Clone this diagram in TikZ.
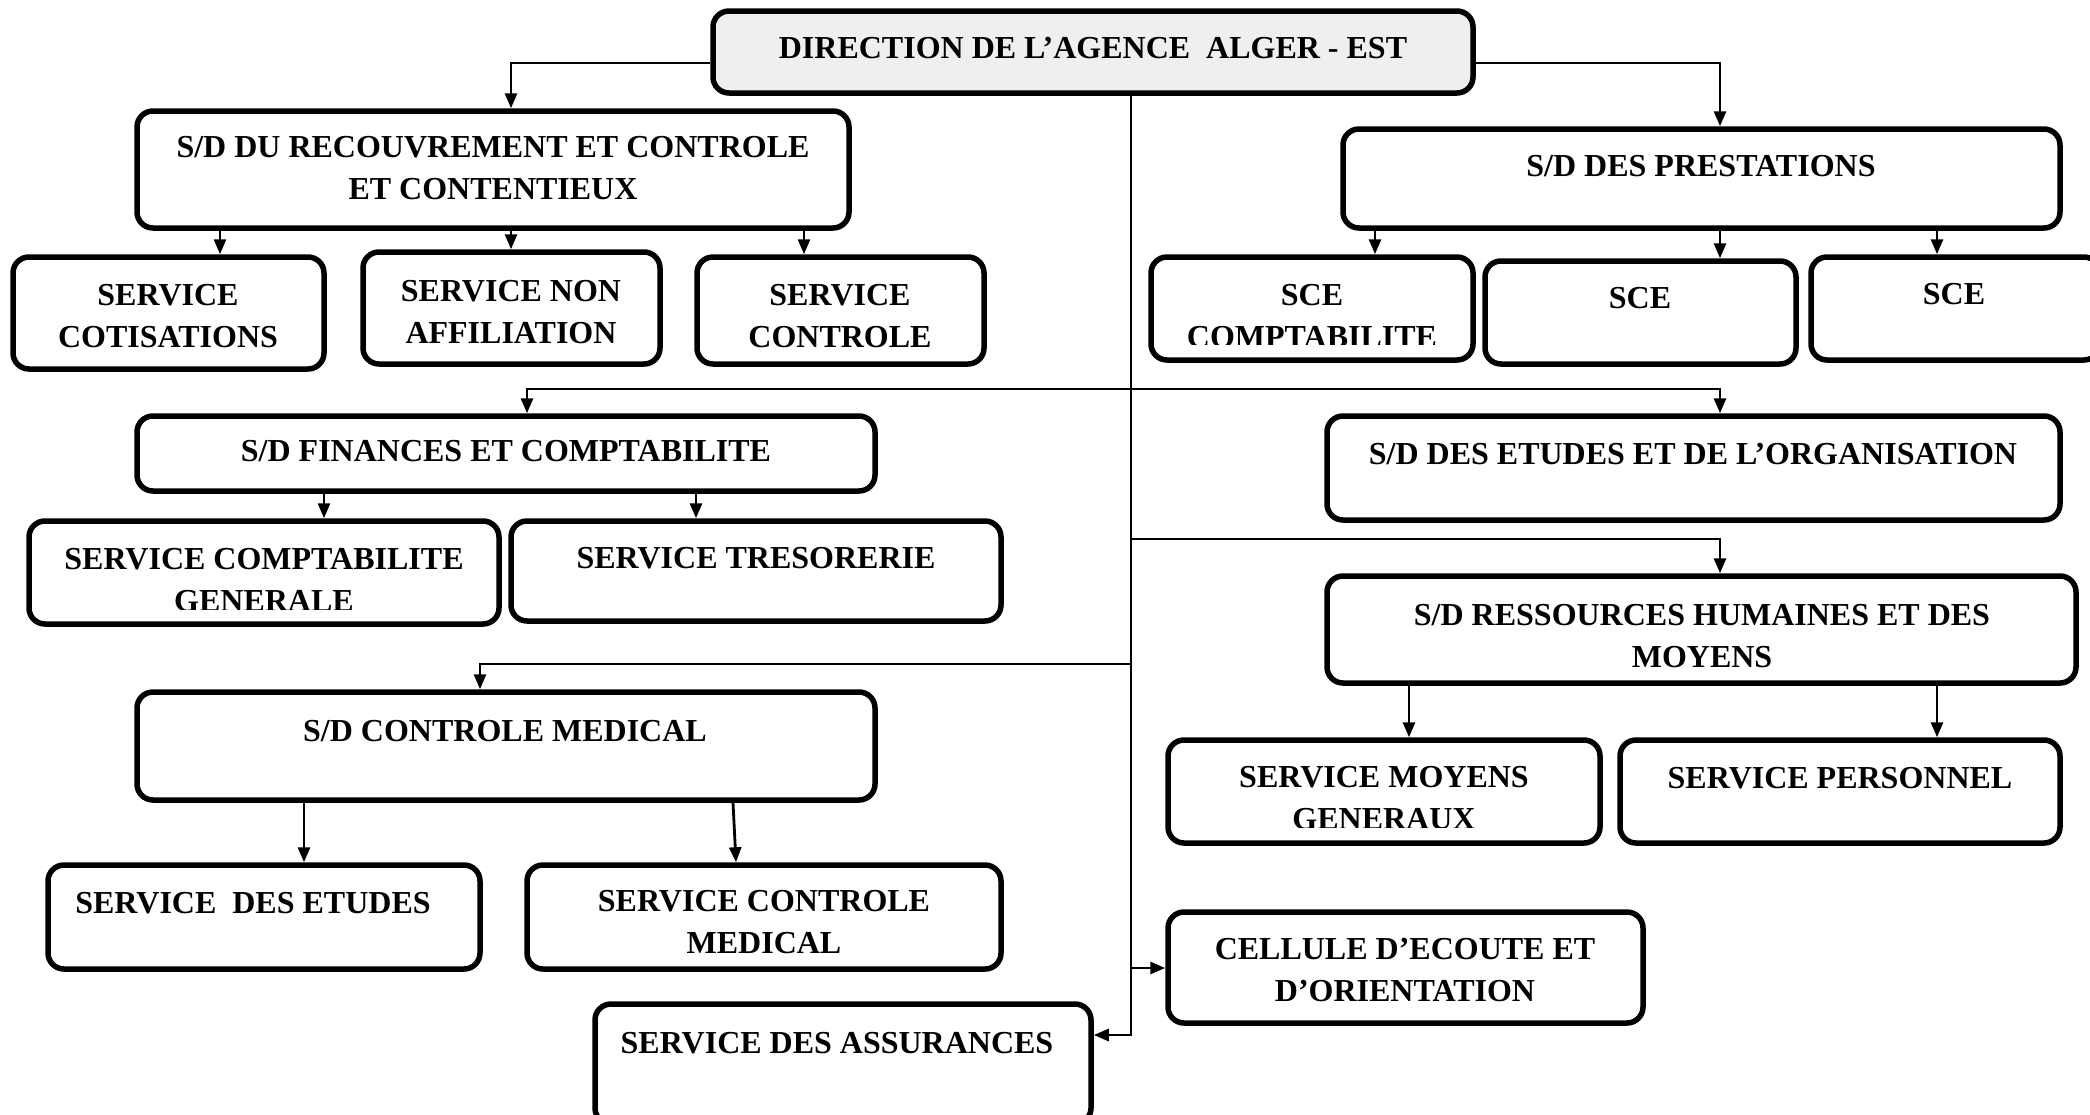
\documentclass[tikz,border=0pt]{standalone}
\usepackage{fontspec}
\setmainfont{Liberation Serif}
\usetikzlibrary{arrows.meta,calc}
\definecolor{headfill}{HTML}{EFEFEF}
\tikzset{
  unit/.style={draw=black, line width=5.5pt, rounded corners=16pt, inner sep=0pt, fill=white},
  head/.style={unit, fill=headfill},
  lbl/.style={font=\bfseries\fontsize{32}{42}\selectfont, inner sep=0pt, align=center, anchor=base},
  link/.style={line width=2.8pt, -{Triangle[length=15pt,width=12pt]}},
}
% \orgbox[style]{name}{x1}{y1}{x2}{y2}
\newcommand{\orgbox}[6][unit]{%
  \node[#1, minimum width={#5-#3}, minimum height={#6-#4}] (#2) at ({(#3+#5)/2},{(#4+#6)/2}) {};}
\begin{document}
\begin{tikzpicture}[x=1pt, y=-1pt]
\useasboundingbox (0,0) rectangle (2090,1114);

% ---- boxes
\orgbox[head]{dir}{713}{11}{1473}{93}
\orgbox{sdrec}{137}{111}{849}{228}
\orgbox{cot}{13}{257}{324}{369}
\orgbox{naff}{363}{252}{660}{364}
\orgbox{ctl}{697}{257}{984}{364}
\orgbox{prest}{1343}{129}{2060}{228}
\orgbox{sceA}{1151}{257}{1473}{360}
\orgbox{sceB}{1485}{261}{1796}{364}
\orgbox{sceC}{1811}{257}{2100}{360}
\orgbox{fin}{137}{416}{875}{491}
\orgbox{cgen}{29}{521}{499}{624}
\orgbox{tres}{511}{521}{1001}{621}
\orgbox{etu}{1327}{416}{2060}{520}
\orgbox{rh}{1327}{576}{2076}{683}
\orgbox{mgen}{1168}{740}{1600}{843}
\orgbox{pers}{1620}{740}{2060}{843}
\orgbox{cmed}{137}{692}{875}{800}
\orgbox{setu}{48}{865}{480}{969}
\orgbox{scm}{527}{865}{1001}{969}
\orgbox{cell}{1168}{912}{1643}{1023}
\orgbox{assur}{595}{1004}{1091}{1124}

% ---- labels (base anchor = baseline of the last line)
\node[lbl] (dir-t) at (1093,58) {DIRECTION DE L’AGENCE\ \ ALGER - EST};
\node[lbl] (sdrec-t) at (493,199) {S/D DU RECOUVREMENT ET CONTROLE\\ET CONTENTIEUX};
\node[lbl] (cot-t) at (168,347) {SERVICE\\COTISATIONS};
\node[lbl] (naff-t) at (511,343) {SERVICE NON\\AFFILIATION};
\node[lbl] (ctl-t) at (840,347) {SERVICE\\CONTROLE};
\node[lbl] (prest-t) at (1701,176) {S/D DES PRESTATIONS};
\begin{scope}
  \clip (1151,257) rectangle (1473,344);
  \node[lbl] (sceA-t) at (1312,347) {SCE\\COMPTABILITE};
\end{scope}
\node[lbl] (sceB-t) at (1640,308) {SCE};
\node[lbl] (sceC-t) at (1954,304) {SCE};
\node[lbl] (fin-t) at (506,461) {S/D FINANCES ET COMPTABILITE};
\begin{scope}
  \clip (29,521) rectangle (499,609);
  \node[lbl] (cgen-t) at (264,611) {SERVICE COMPTABILITE\\GENERALE};
\end{scope}
\node[lbl] (tres-t) at (756,568) {SERVICE TRESORERIE};
\node[lbl] (etu-t) at (1693,464) {S/D DES ETUDES ET DE L’ORGANISATION};
\node[lbl] (rh-t) at (1702,667) {S/D RESSOURCES HUMAINES ET DES\\MOYENS};
\begin{scope}
  \clip (1168,740) rectangle (1600,827);
  \node[lbl] (mgen-t) at (1384,829) {SERVICE MOYENS\\GENERAUX};
\end{scope}
\node[lbl] (pers-t) at (1840,788) {SERVICE PERSONNEL};
\node[lbl] (cmed-t) at (505,741) {S/D CONTROLE MEDICAL};
\node[lbl] (setu-t) at (253,913) {SERVICE\ \ DES ETUDES};
\node[lbl] (scm-t) at (764,953) {SERVICE CONTROLE\\MEDICAL};
\node[lbl] (cell-t) at (1405,1001) {CELLULE D’ECOUTE ET\\D’ORIENTATION};
\node[lbl] (assur-t) at (837,1053) {SERVICE DES ASSURANCES};

% ---- junctions on the central trunk
\coordinate (jA) at (1131,389);
\coordinate (jB) at (1131,539);
\coordinate (jC) at (1131,664);
\coordinate (jD) at (1131,968);

% ---- connectors
\draw[link] (dir.west |- 0,63) -| (sdrec.north -| 511,0);
\draw[link] (dir.east |- 0,63) -| (prest.north -| 1720,0);
\draw[link] (dir.south -| 1131,0) |- (assur.east |- 0,1035);

\draw[link] (sdrec.south -| 220,0) -- (cot.north -| 220,0);
\draw[link] (sdrec.south -| 511,0) -- (naff.north -| 511,0);
\draw[link] (sdrec.south -| 804,0) -- (ctl.north -| 804,0);

\draw[link] (prest.south -| 1375,0) -- (sceA.north -| 1375,0);
\draw[link] (prest.south -| 1720,0) -- (sceB.north -| 1720,0);
\draw[link] (prest.south -| 1937,0) -- (sceC.north -| 1937,0);

\draw[link] (jA) -| (fin.north -| 527,0);
\draw[link] (jA) -| (etu.north -| 1720,0);

\draw[link] (fin.south -| 324,0) -- (cgen.north -| 324,0);
\draw[link] (fin.south -| 696,0) -- (tres.north -| 696,0);

\draw[link] (jB) -| (rh.north -| 1720,0);
\draw[link] (rh.south -| 1409,0) -- (mgen.north -| 1409,0);
\draw[link] (rh.south -| 1937,0) -- (pers.north -| 1937,0);

\draw[link] (jC) -| (cmed.north -| 480,0);
\draw[link] (cmed.south -| 304,0) -- (setu.north -| 304,0);
\draw[link] (cmed.south -| 733,0) -- (scm.north -| 736,0);

\draw[link] (jD) -- (cell.west |- jD);
\end{tikzpicture}
\end{document}
